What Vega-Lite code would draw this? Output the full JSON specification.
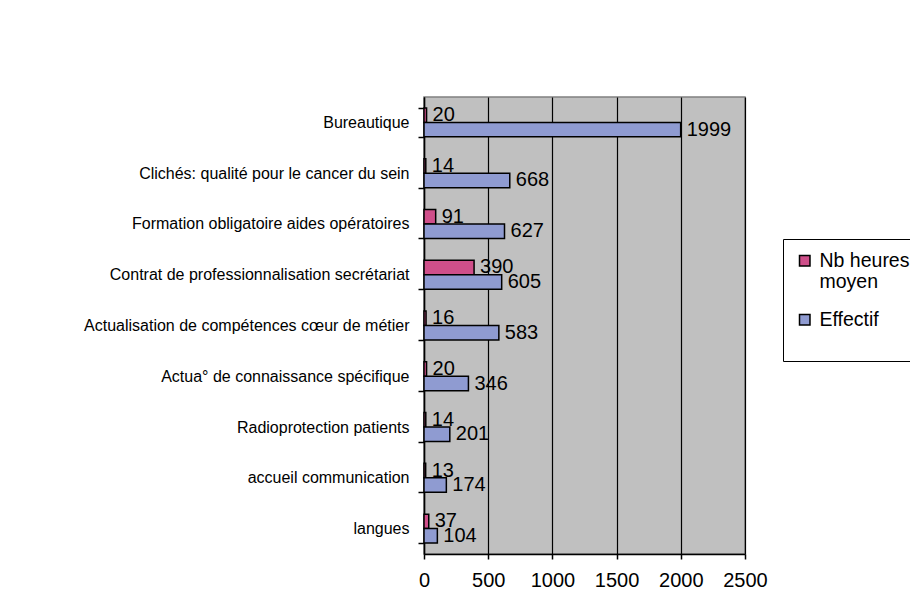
{
  "$schema": "https://vega.github.io/schema/vega-lite/v6.json",
  "width": 321,
  "height": 457,
  "autosize": {"type": "none"},
  "padding": {"left": 424, "top": 97, "right": 165, "bottom": 53},
  "background": "white",
  "config": {
    "font": "Liberation Sans",
    "view": {"fill": "#C0C0C0", "stroke": "#808080", "strokeWidth": 1.5}
  },
  "data": {
    "values": [
      {"formation": "Bureautique", "serie": "Nb heures moyen", "valeur": 20},
      {"formation": "Bureautique", "serie": "Effectif", "valeur": 1999},
      {"formation": "Clichés: qualité pour le cancer du sein", "serie": "Nb heures moyen", "valeur": 14},
      {"formation": "Clichés: qualité pour le cancer du sein", "serie": "Effectif", "valeur": 668},
      {"formation": "Formation obligatoire aides opératoires", "serie": "Nb heures moyen", "valeur": 91},
      {"formation": "Formation obligatoire aides opératoires", "serie": "Effectif", "valeur": 627},
      {"formation": "Contrat de professionnalisation secrétariat", "serie": "Nb heures moyen", "valeur": 390},
      {"formation": "Contrat de professionnalisation secrétariat", "serie": "Effectif", "valeur": 605},
      {"formation": "Actualisation de compétences cœur de métier", "serie": "Nb heures moyen", "valeur": 16},
      {"formation": "Actualisation de compétences cœur de métier", "serie": "Effectif", "valeur": 583},
      {"formation": "Actua° de connaissance spécifique", "serie": "Nb heures moyen", "valeur": 20},
      {"formation": "Actua° de connaissance spécifique", "serie": "Effectif", "valeur": 346},
      {"formation": "Radioprotection patients", "serie": "Nb heures moyen", "valeur": 14},
      {"formation": "Radioprotection patients", "serie": "Effectif", "valeur": 201},
      {"formation": "accueil communication", "serie": "Nb heures moyen", "valeur": 13},
      {"formation": "accueil communication", "serie": "Effectif", "valeur": 174},
      {"formation": "langues", "serie": "Nb heures moyen", "valeur": 37},
      {"formation": "langues", "serie": "Effectif", "valeur": 104}
    ]
  },
  "encoding": {
    "y": {
      "field": "formation",
      "type": "nominal",
      "sort": null,
      "scale": {"paddingInner": 0.43, "paddingOuter": 0.215},
      "axis": {
        "title": null,
        "domainColor": "black",
        "domainWidth": 1.5,
        "tickColor": "black",
        "tickWidth": 1.5,
        "tickSize": 6,
        "tickBand": "extent",
        "labelFontSize": 16,
        "labelColor": "black",
        "labelPadding": 9,
        "labelLimit": 400,
        "grid": false
      }
    },
    "yOffset": {
      "field": "serie",
      "type": "nominal",
      "sort": ["Nb heures moyen", "Effectif"],
      "scale": {"paddingInner": 0, "paddingOuter": 0}
    },
    "x": {
      "field": "valeur",
      "type": "quantitative",
      "scale": {"domain": [0, 2500], "nice": false},
      "axis": {
        "title": null,
        "values": [0, 500, 1000, 1500, 2000, 2500],
        "format": "d",
        "labelOverlap": false,
        "labelFlush": false,
        "grid": true,
        "gridColor": "black",
        "gridWidth": 1.2,
        "gridOpacity": 1,
        "domainColor": "black",
        "domainWidth": 1.5,
        "tickColor": "black",
        "tickWidth": 1.5,
        "tickSize": 5,
        "labelFontSize": 20,
        "labelColor": "black",
        "labelPadding": 11
      }
    }
  },
  "layer": [
    {
      "mark": {"type": "bar", "stroke": "black", "strokeWidth": 1.5},
      "encoding": {
        "color": {
          "field": "serie",
          "type": "nominal",
          "sort": ["Nb heures moyen", "Effectif"],
          "scale": {"domain": ["Nb heures moyen", "Effectif"], "range": ["#CF4F8A", "#8F9BD1"]},
          "legend": {
            "title": " ",
            "titleOrient": "bottom",
            "titleFontSize": 16,
            "titlePadding": 4,
            "orient": "none",
            "legendX": 359,
            "legendY": 142,
            "direction": "vertical",
            "strokeColor": "black",
            "fillColor": "white",
            "padding": 12,
            "symbolType": "square",
            "symbolSize": 110,
            "symbolStrokeColor": "black",
            "symbolStrokeWidth": 1.5,
            "symbolOpacity": 1,
            "labelFontSize": 19.5,
            "labelColor": "black",
            "labelOffset": 5,
            "labelLimit": 200,
            "rowPadding": 17,
            "labelExpr": "datum.label == 'Nb heures moyen' ? ['Nb heures', 'moyen'] : datum.label"
          }
        }
      }
    },
    {
      "mark": {"type": "text", "align": "left", "baseline": "middle", "dx": 6, "fontSize": 20, "color": "black"},
      "encoding": {
        "text": {"field": "valeur", "type": "quantitative", "format": "d"}
      }
    }
  ]
}
